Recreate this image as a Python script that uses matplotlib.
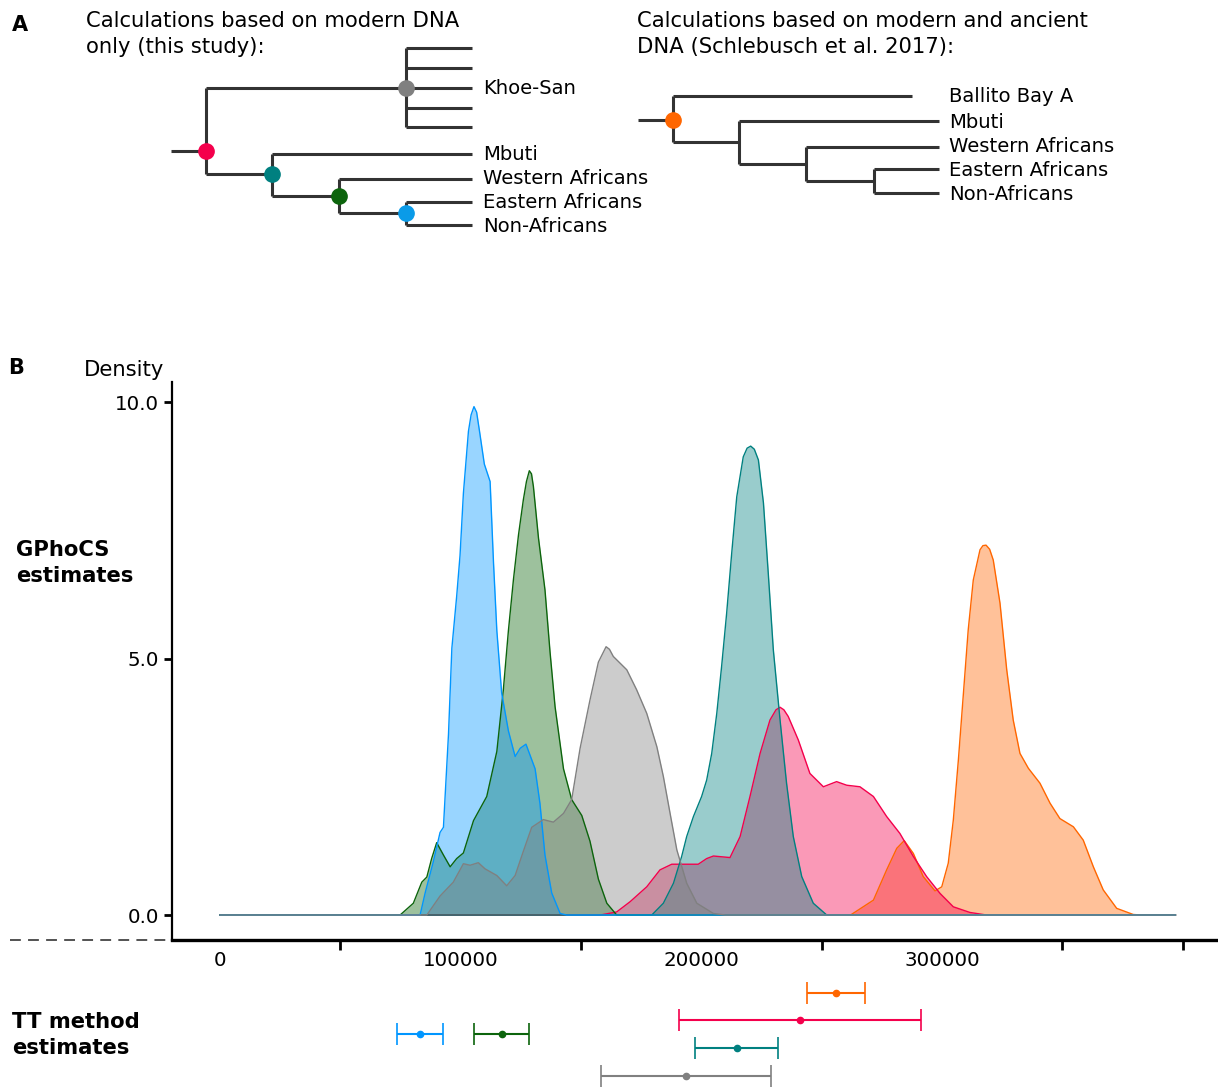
import matplotlib.pyplot as plt
from matplotlib.lines import Line2D

W, H = 1218, 1088
fig = plt.figure(figsize=(W / 100, H / 100), dpi=100)
plt.rcParams['font.family'] = 'DejaVu Sans'

# ---- data: GPhoCS posterior densities (x in years, y density scaled) ----
x_end = 397000

orange_x = [262000, 271500, 277000, 281200, 284300, 288100, 292200, 297100, 299900, 302600,
            304700, 306800, 308900, 310900, 313000, 315800, 317000, 318300, 319800, 321300,
            324100, 326900, 329600, 332400, 335900, 340700, 344900, 349000, 354600, 358700,
            362900, 367000, 372600, 379500, 383000]
orange_y = [0, 0.29, 0.88, 1.30, 1.45, 1.20, 0.75, 0.47, 0.55, 1.01,
            1.85, 3.02, 4.32, 5.56, 6.53, 7.12, 7.20, 7.21, 7.13, 6.92,
            6.08, 4.78, 3.80, 3.15, 2.86, 2.57, 2.18, 1.88, 1.72, 1.46,
            0.94, 0.49, 0.13, 0.01, 0]

pink_x = [158000, 164800, 170400, 177300, 182800, 187700, 192500, 198700, 202200, 205000,
          211900, 216100, 220200, 224400, 228500, 231000, 232700, 234300, 236100, 240300,
          245100, 250700, 256200, 260400, 265900, 271500, 277000, 282500, 288100, 293600,
          299200, 304700, 311600, 318500]
pink_y = [0, 0.06, 0.26, 0.55, 0.88, 0.99, 0.99, 0.99, 1.10, 1.15,
          1.12, 1.53, 2.31, 3.15, 3.80, 4.00, 4.05, 4.00, 3.87, 3.41,
          2.76, 2.50, 2.60, 2.53, 2.50, 2.31, 1.92, 1.59, 1.14, 0.75,
          0.42, 0.16, 0.05, 0]

teal_x = [179400, 184200, 188400, 191800, 193900, 196700, 200100, 202200, 204300, 206400,
          208400, 210500, 212600, 214700, 217400, 219000, 220500, 222000, 223700, 225800,
          227800, 229900, 232700, 235400, 238200, 241700, 246500, 252100]
teal_y = [0, 0.23, 0.62, 1.14, 1.53, 1.92, 2.31, 2.63, 3.15, 3.93,
          4.84, 5.88, 7.05, 8.15, 8.93, 9.10, 9.14, 9.08, 8.87, 8.03,
          6.66, 5.17, 3.80, 2.57, 1.53, 0.75, 0.23, 0]

green_x = [74800, 80300, 83800, 85900, 87900, 90000, 92800, 95600, 98300, 101100,
           105300, 110800, 115000, 117700, 119800, 121900, 124000, 126000, 127300, 128500,
           129400, 130200, 132300, 135000, 137100, 139200, 142700, 146100, 150300, 153700,
           157200, 160700, 164800]
green_y = [0, 0.23, 0.64, 0.74, 1.10, 1.41, 1.17, 0.94, 1.10, 1.21,
           1.84, 2.31, 3.19, 4.39, 5.54, 6.54, 7.41, 8.09, 8.45, 8.66,
           8.60, 8.35, 7.35, 6.34, 5.13, 4.06, 2.85, 2.25, 1.94, 1.44,
           0.70, 0.23, 0]

blue_x = [83100, 85200, 88600, 91400, 92800, 94900, 96300, 98300, 99700, 101100,
          103200, 104300, 105500, 106600, 107800, 109800, 112200, 113600, 115000, 117000,
          119800, 122600, 124700, 127100, 130900, 132900, 135000, 137800, 141300, 144000]
blue_y = [0, 0.43, 1.04, 1.61, 1.71, 3.52, 5.20, 6.21, 7.01, 8.22,
          9.43, 9.75, 9.91, 9.80, 9.43, 8.79, 8.45, 6.88, 5.54, 4.33,
          3.59, 3.09, 3.25, 3.33, 2.85, 2.18, 1.17, 0.43, 0.03, 0]

gray_x = [85900, 91400, 96900, 101100, 103900, 107300, 110100, 115000, 119100, 122600,
          126000, 129500, 134300, 138500, 142700, 146100, 149600, 153700, 157200, 160400,
          161800, 163400, 169000, 173100, 177300, 181500, 184200, 187000, 189800, 193900,
          198100, 205000, 210000]
gray_y = [0, 0.37, 0.64, 1.00, 0.97, 1.02, 0.90, 0.77, 0.57, 0.77,
          1.24, 1.71, 1.86, 1.81, 1.98, 2.25, 3.25, 4.19, 4.93, 5.23,
          5.18, 5.04, 4.78, 4.39, 3.93, 3.28, 2.70, 1.98, 1.27, 0.62,
          0.23, 0.03, 0]

# TT method estimates: (low, point, high)
tt_low = [243900, 190700, 73500, 105500, 197300, 158300]
tt_mid = [255900, 241000, 83100, 117200, 214800, 193600]
tt_high = [268000, 291200, 92600, 128400, 231800, 228900]

c_orange = '#ff6600'
c_pink = '#f4004c'
c_teal = '#008080'
c_green = '#0c640c'
c_blue = '#0096ff'
c_gray = '#808080'

series = [(orange_x, orange_y, c_orange), (pink_x, pink_y, c_pink),
          (teal_x, teal_y, c_teal), (green_x, green_y, c_green),
          (blue_x, blue_y, c_blue), (gray_x, gray_y, c_gray)]
tt_colors = [c_orange, c_pink, c_blue, c_green, c_teal, c_gray]
tt_rows = [0, 2, 3, 3, 4, 6]

big = 15.2
lab_fs = 14.1
tick_fs = 14.3

# ---- panel B main axes ----
left = 172 / W
ax = fig.add_axes([left, (H - 940) / H, 1 - left, (940 - 382) / H])
for xs, ys, col in series:
    xx = [0] + xs + [x_end]
    yy = [0] + ys + [0]
    ax.fill_between(xx, yy, 0, color=col, alpha=0.4, lw=0)
    ax.plot(xx, yy, color=col, lw=1.0)

ax.set_xlim(-20000, 414700)
ax.set_ylim(-0.487, 10.39)
for s in ['top', 'right']:
    ax.spines[s].set_visible(False)
ax.spines['left'].set_linewidth(1.6)
ax.spines['bottom'].set_linewidth(2.4)
ax.set_yticks([0, 5, 10])
ax.set_yticklabels(['0.0', '5.0', '10.0'], fontsize=tick_fs)
ax.tick_params(axis='y', length=6, width=2)
ax.set_xticks([50000, 150000, 250000, 350000, 400000])
ax.set_xticklabels([])
ax.set_xticks([0, 100000, 200000, 300000], minor=True)
ax.set_xticklabels(['0', '100000', '200000', '300000'], minor=True, fontsize=tick_fs)
ax.tick_params(axis='x', which='major', length=7, width=2)
ax.tick_params(axis='x', which='minor', length=0, pad=8)

# ---- TT method error bars ----
ax2 = fig.add_axes([left, 0, 1 - left, 109 / H])
for lo, mid, hi, col, row in zip(tt_low, tt_mid, tt_high, tt_colors, tt_rows):
    ax2.errorbar([mid], [row], xerr=[[mid - lo], [hi - mid]], fmt='o', color=col,
                 ms=4.5, lw=1.5, capsize=8, capthick=1.2)
ax2.set_xlim(ax.get_xlim())
ax2.set_ylim(6.88, -1)
ax2.axis('off')

# ---- overlay in pixel coordinates: tree panel A and texts ----
ov = fig.add_axes([0, 0, 1, 1], zorder=-1)
ov.set_xlim(0, W)
ov.set_ylim(H, 0)
ov.axis('off')

lc = '#333333'
lw = 2.2


def seg(x0, y0, x1, y1):
    ov.plot([x0, x1], [y0, y1], color=lc, lw=lw, solid_capstyle='butt')


# left tree
seg(171, 151, 206, 151)
seg(206, 88, 206, 174)
seg(206, 88, 406, 88)
seg(406, 48, 406, 127)
for yk in [48, 68, 88, 108, 127]:
    seg(406, yk, 472, yk)
seg(206, 174, 272, 174)
seg(272, 154, 272, 196)
seg(272, 154, 472, 154)
seg(272, 196, 339, 196)
seg(339, 179, 339, 213)
seg(339, 179, 472, 179)
seg(339, 213, 406, 213)
seg(406, 202, 406, 225)
seg(406, 202, 472, 202)
seg(406, 225, 472, 225)
for nx, ny, col in [(206, 151, c_pink), (406, 88, c_gray), (272, 174, c_teal),
                    (339, 196, c_green), (406, 213, '#0a9be8')]:
    ov.plot(nx, ny, 'o', color=col, ms=11, zorder=5)

for lab, ly in [('Khoe-San', 89), ('Mbuti', 154), ('Western Africans', 179),
                ('Eastern Africans', 202), ('Non-Africans', 226)]:
    ov.text(483, ly, lab, fontsize=lab_fs, va='center', ha='left')

# right tree
seg(638, 120, 673, 120)
seg(673, 96, 673, 142)
seg(673, 96, 912, 96)
seg(673, 142, 739, 142)
seg(739, 121, 739, 164)
seg(739, 121, 939, 121)
seg(739, 164, 806, 164)
seg(806, 147, 806, 181)
seg(806, 147, 939, 147)
seg(806, 181, 874, 181)
seg(874, 169, 874, 193)
seg(874, 169, 939, 169)
seg(874, 193, 939, 193)
ov.plot(673, 120, 'o', color=c_orange, ms=11, zorder=5)
for lab, ly in [('Ballito Bay A', 96), ('Mbuti', 122), ('Western Africans', 147),
                ('Eastern Africans', 170), ('Non-Africans', 194)]:
    ov.text(949, ly, lab, fontsize=lab_fs, va='center', ha='left')

ov.text(86, 34, 'Calculations based on modern DNA\nonly (this study):', fontsize=big,
        va='center', ha='left', linespacing=1.38)
ov.text(637, 34, 'Calculations based on modern and ancient\nDNA (Schlebusch et al. 2017):',
        fontsize=big, va='center', ha='left', linespacing=1.38)
ov.text(12, 25, 'A', fontsize=15, fontweight='bold', va='center', ha='left')
ov.text(8, 368, 'B', fontsize=15, fontweight='bold', va='center', ha='left')
ov.text(84, 370, 'Density', fontsize=big, va='center', ha='left')
ov.text(16, 563, 'GPhoCS\nestimates', fontsize=big, fontweight='bold', va='center',
        ha='left', linespacing=1.38)
ov.text(12, 1035, 'TT method\nestimates', fontsize=big, fontweight='bold', va='center',
        ha='left', linespacing=1.38)
ov.add_line(Line2D([10, 172], [940, 940], color='#444444', lw=1.3, ls=(0, (6, 4))))

fig.savefig('out.png', dpi=100)
